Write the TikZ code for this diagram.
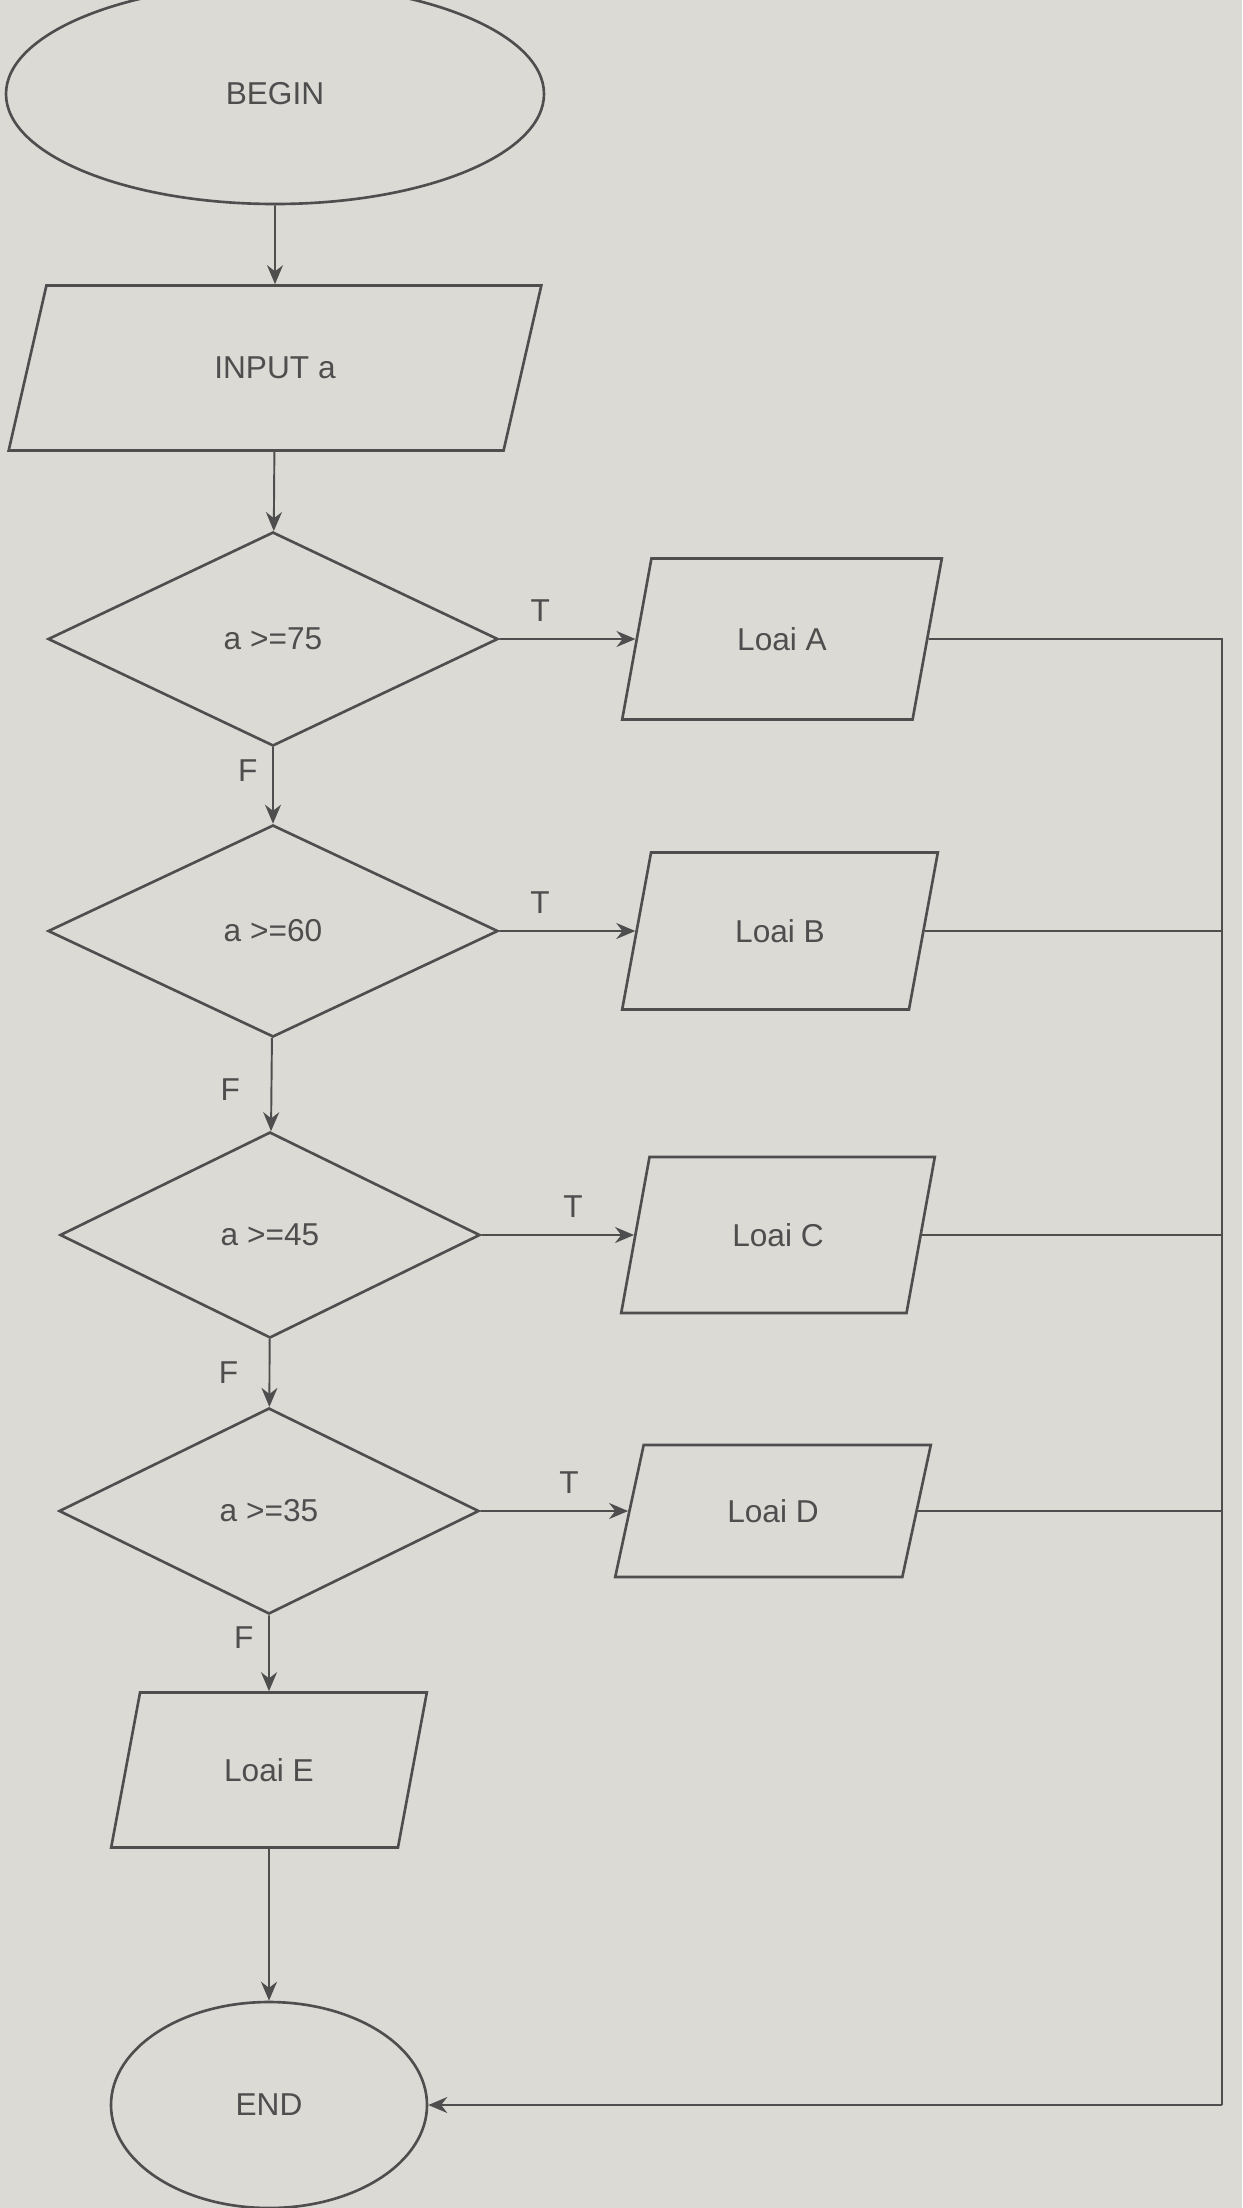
\documentclass[tikz,border=0pt]{standalone}
\usepackage{fontspec}
\setmainfont{Liberation Sans}
\usepackage{tikz}
\usetikzlibrary{shapes, arrows.meta}
\definecolor{screen}{RGB}{219,218,213}
\definecolor{ink}{RGB}{78,78,78}

\begin{document}
\begin{tikzpicture}[
        every node/.style={text=ink, font=\fontsize{18}{22}\selectfont},
        terminal/.style={ellipse, draw=ink, line width=1.5pt, fill=screen},
        io/.style={trapezium, trapezium left angle=72, trapezium right angle=108,
            trapezium stretches=true, draw=ink, line width=1.5pt, fill=screen},
        test/.style={diamond, draw=ink, line width=1.5pt, fill=screen, inner sep=0pt},
        flow/.style={draw=ink, line width=1.1pt, -{Stealth[length=0.38cm, width=0.32cm]}},
        rail/.style={draw=ink, line width=1.1pt}
    ]
        \fill[screen] (0,0) rectangle (24.84,-44.16);
        \useasboundingbox (0,0) rectangle (24.84,-44.16);
        \node[terminal, minimum width=10.76cm, minimum height=4.4cm] (BEGIN) at (5.5,-1.88) {
            BEGIN
        };
        \node[io, minimum width=10.7cm, minimum height=3.3cm] (INPUT) at (5.5,-7.36) {
            INPUT a
        };
        \node[test, minimum width=9cm, minimum height=4.28cm] (C75) at (5.46,-12.78) {
            a >=75
        };
        \node[io, minimum width=6.42cm, minimum height=3.22cm] (LOAIA) at (15.64,-12.78) {
            Loai A
        };
        \node[test, minimum width=9cm, minimum height=4.24cm] (C60) at (5.46,-18.62) {
            a >=60
        };
        \node[io, minimum width=6.34cm, minimum height=3.14cm] (LOAIB) at (15.6,-18.62) {
            Loai B
        };
        \node[test, minimum width=8.4cm, minimum height=4.12cm] (C45) at (5.4,-24.7) {
            a >=45
        };
        \node[io, minimum width=6.3cm, minimum height=3.12cm] (LOAIC) at (15.56,-24.7) {
            Loai C
        };
        \node[test, minimum width=8.4cm, minimum height=4.12cm] (C35) at (5.38,-30.22) {
            a >=35
        };
        \node[io, minimum width=6.34cm, minimum height=2.64cm] (LOAID) at (15.46,-30.22) {
            Loai D
        };
        \node[io, minimum width=6.34cm, minimum height=3.1cm] (LOAIE) at (5.38,-35.4) {
            Loai E
        };
        \node[terminal, minimum width=6.32cm, minimum height=4.12cm] (END) at (5.38,-42.1) {
            END
        };
        \coordinate (RAILTOP) at (24.44,-12.78);
        \coordinate (RAILBOT) at (24.44,-42.1);
        \draw[flow] (BEGIN) -- (INPUT);
        \draw[flow] (INPUT) -- (C75);
        \draw[flow] (C75) -- node[left=5pt, pos=0.3] {F} (C60);
        \draw[flow] (C60) -- node[left=14pt, pos=0.55] {F} (C45);
        \draw[flow] (C45) -- node[left=14pt, pos=0.5] {F} (C35);
        \draw[flow] (C35) -- node[left=5pt, pos=0.3] {F} (LOAIE);
        \draw[flow] (LOAIE) -- (END);
        \draw[flow] (C75.east) -- node[above=6pt, pos=0.3] {T} (LOAIA);
        \draw[flow] (C60.east) -- node[above=6pt, pos=0.3] {T} (LOAIB);
        \draw[flow] (C45.east) -- node[above=6pt, pos=0.6] {T} (LOAIC);
        \draw[flow] (C35.east) -- node[above=6pt, pos=0.6] {T} (LOAID);
        \draw[rail] (LOAIA.east) -- (RAILTOP) -- (RAILBOT);
        \draw[rail] (LOAIB.east) -- (LOAIB.east -| RAILTOP);
        \draw[rail] (LOAIC.east) -- (LOAIC.east -| RAILTOP);
        \draw[rail] (LOAID.east) -- (LOAID.east -| RAILTOP);
        \draw[flow] (RAILBOT) -- (END);
\end{tikzpicture}
\end{document}
